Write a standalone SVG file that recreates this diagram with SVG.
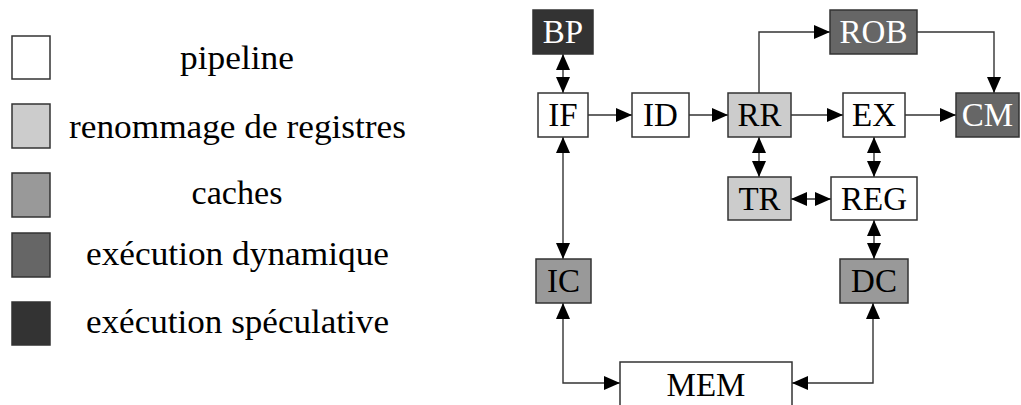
<svg xmlns="http://www.w3.org/2000/svg" width="1021" height="405" viewBox="0 0 1021 405">
<style>
.box{stroke:#333;stroke-width:1.5}
.w{fill:#fff}.l{fill:#ccc}.m{fill:#999}.d{fill:#666}.k{fill:#333}
text{font-family:"Liberation Serif","Times New Roman",serif}
.nt{font-size:33px;text-anchor:middle;fill:#000}
.nw{fill:#fff}
.lg{font-size:34px;text-anchor:middle;fill:#000}
.c{fill:none;stroke:#333;stroke-width:1.4}
</style>
<defs>
<marker id="ah" markerUnits="userSpaceOnUse" markerWidth="17" markerHeight="15" refX="16" refY="7" orient="auto-start-reverse">
<path d="M0,0 L16,7 L0,14 z" fill="#000"/>
</marker>
</defs>
<rect width="1021" height="405" fill="#fff"/>
<g id="legend">
<rect class="box w" x="12" y="36" width="38" height="43"/>
<rect class="box l" x="12" y="104" width="38" height="44"/>
<rect class="box m" x="12" y="173" width="38" height="44"/>
<rect class="box d" x="12" y="233" width="38" height="44"/>
<rect class="box k" x="12" y="302" width="38" height="43"/>
<text class="lg" x="237" y="69" textLength="114" lengthAdjust="spacingAndGlyphs">pipeline</text>
<text class="lg" x="237.5" y="138" textLength="337" lengthAdjust="spacingAndGlyphs">renommage de registres</text>
<text class="lg" x="237" y="204" textLength="91" lengthAdjust="spacingAndGlyphs">caches</text>
<text class="lg" x="237.5" y="265" textLength="303" lengthAdjust="spacingAndGlyphs">exécution dynamique</text>
<text class="lg" x="237.5" y="333" textLength="303" lengthAdjust="spacingAndGlyphs">exécution spéculative</text>
</g>
<g id="connectors">
<path class="c" d="M563,54 V93" marker-start="url(#ah)" marker-end="url(#ah)"/>
<path class="c" d="M588,115 H632" marker-end="url(#ah)"/>
<path class="c" d="M689,115 H728" marker-end="url(#ah)"/>
<path class="c" d="M759,93 V32 H830" marker-end="url(#ah)"/>
<path class="c" d="M917,32 H994 V93" marker-end="url(#ah)"/>
<path class="c" d="M791,115 H843" marker-end="url(#ah)"/>
<path class="c" d="M905,115 H956" marker-end="url(#ah)"/>
<path class="c" d="M759,137 V177" marker-start="url(#ah)" marker-end="url(#ah)"/>
<path class="c" d="M874,137 V177" marker-start="url(#ah)" marker-end="url(#ah)"/>
<path class="c" d="M791,199 H831" marker-start="url(#ah)" marker-end="url(#ah)"/>
<path class="c" d="M874,220 V259" marker-start="url(#ah)" marker-end="url(#ah)"/>
<path class="c" d="M563,137 V259" marker-start="url(#ah)" marker-end="url(#ah)"/>
<path class="c" d="M563,303 V383 H620" marker-start="url(#ah)" marker-end="url(#ah)"/>
<path class="c" d="M873,303 V383 H792" marker-start="url(#ah)" marker-end="url(#ah)"/>
</g>
<g id="BP"><rect class="box k" x="533" y="10" width="60" height="44"/><text class="nt nw" x="563" y="43">BP</text></g>
<g id="IF"><rect class="box w" x="538" y="93" width="50" height="44"/><text class="nt" x="563" y="126">IF</text></g>
<g id="ID"><rect class="box w" x="632" y="93" width="57" height="44"/><text class="nt" x="660.5" y="126">ID</text></g>
<g id="RR"><rect class="box l" x="728" y="93" width="63" height="44"/><text class="nt" x="759.5" y="126">RR</text></g>
<g id="ROB"><rect class="box d" x="830" y="10" width="87" height="44"/><text class="nt nw" x="873.5" y="43">ROB</text></g>
<g id="EX"><rect class="box w" x="843" y="93" width="62" height="44"/><text class="nt" x="874" y="126">EX</text></g>
<g id="CM"><rect class="box d" x="956" y="93" width="63" height="44"/><text class="nt nw" x="987.5" y="126">CM</text></g>
<g id="TR"><rect class="box l" x="728" y="177" width="63" height="43"/><text class="nt" x="759.5" y="210">TR</text></g>
<g id="REG"><rect class="box w" x="831" y="177" width="86" height="43"/><text class="nt" x="874" y="210">REG</text></g>
<g id="IC"><rect class="box m" x="536" y="259" width="55" height="44"/><text class="nt" x="563.5" y="292">IC</text></g>
<g id="DC"><rect class="box m" x="840" y="259" width="68" height="44"/><text class="nt" x="874" y="292">DC</text></g>
<g id="MEM"><rect class="box w" x="620" y="362" width="172" height="50"/><text class="nt" x="706" y="396">MEM</text></g>
</svg>
